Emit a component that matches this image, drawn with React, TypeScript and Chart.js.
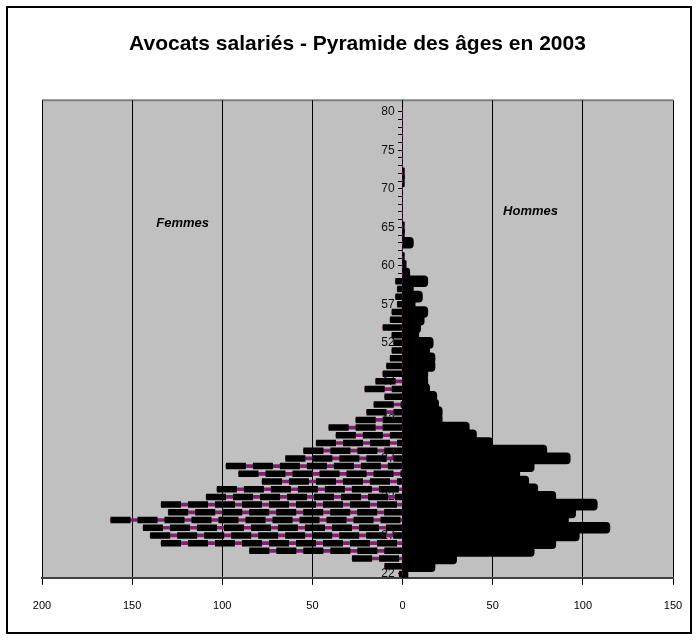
import { useEffect, useRef } from "react";
import { Chart, registerables } from "chart.js";

Chart.register(...registerables);

const chartTitle = "Avocats salariés - Pyramide des âges en 2003";

// one category per row of the pyramid, bottom to top
const ages = [
  "22", "23", "24", "25", "26", "27", "28", "29", "30", "31",
  "32", "33", "34", "35", "36", "37", "38", "39", "40", "41",
  "42", "43", "44", "45", "46", "47", "48", "49", "50", "51",
  "52", "53", "54", "55", "56", "57", "57,6", "58,2", "58,8", "59,4",
  "60", "61", "62", "63", "64", "65", "66", "67", "68", "69",
  "70", "71", "72", "73", "74", "75", "76", "77", "78", "79",
  "80",
];

// labels shown on the age axis, one every 5 rows
const ageTickLabels = ["22", "27", "32", "37", "42", "47", "52", "57", "60", "65", "70", "75", "80"];

const femmes = [
  2, 10, 28, 85, 134, 140, 144, 162, 130, 134,
  109, 103, 78, 91, 98, 65, 55, 48, 37, 41,
  26, 20, 16, 10, 21, 15, 11, 9, 7, 6,
  5, 6, 11, 7, 6, 3, 4, 3, 4, 0,
  0, 0, 0, 0, 0, 0, 0, 0, 0, 0,
  0, 0, 0, 0, 0, 0, 0, 0, 0, 0,
  0,
];

const hommes = [
  3, 18, 30, 73, 85, 98, 115, 92, 96, 108,
  85, 75, 70, 65, 73, 93, 80, 50, 41, 37,
  22, 22, 20, 19, 15, 14, 14, 18, 18, 15,
  17, 9, 10, 12, 14, 7, 11, 6, 14, 4,
  2, 1, 0, 6, 1, 1, 0, 0, 0, 0,
  0, 1, 1, 0, 0, 0, 0, 0, 0, 0,
  0,
];

const xMin = -200;
const xMax = 150;
const xStep = 50;

const annotations = [
  { text: "Femmes", x: -122, y: 45.5 },
  { text: "Hommes", x: 71, y: 47 },
];

const FONT = "'Liberation Sans', Arial, sans-serif";
const PURPLE = "#80206e";

const pyramidPlugin = {
  id: "pyramid",
  beforeDraw(chart: any) {
    const { ctx, chartArea: a } = chart;
    ctx.save();
    ctx.fillStyle = "#c0c0c0";
    ctx.fillRect(a.left, a.top, a.right - a.left, a.bottom - a.top);
    ctx.strokeStyle = "#808080";
    ctx.lineWidth = 2;
    ctx.beginPath();
    ctx.moveTo(a.left, a.top);
    ctx.lineTo(a.right, a.top);
    ctx.stroke();
    ctx.restore();
  },
  beforeDatasetsDraw(chart: any) {
    // age labels, left of the central axis, covered by the bars
    const { ctx } = chart;
    const xs = chart.scales.x;
    const ys = chart.scales.y;
    const axisX = xs.getPixelForValue(0);
    ctx.save();
    ctx.font = `12px ${FONT}`;
    ctx.fillStyle = "#111";
    ctx.textAlign = "right";
    ctx.textBaseline = "middle";
    ageTickLabels.forEach((lab, k) => {
      ctx.fillText(lab, axisX - 8, ys.getPixelForValue(k * 5));
    });
    ctx.restore();
  },
  afterDatasetsDraw(chart: any) {
    const { ctx, chartArea: a } = chart;
    const meta = chart.getDatasetMeta(0);
    ctx.save();
    ctx.beginPath();
    ctx.rect(a.left, a.top, a.right - a.left, a.bottom - a.top);
    ctx.clip();
    ctx.strokeStyle = "#000";
    ctx.lineWidth = 6.5;
    ctx.lineCap = "butt";
    ctx.setLineDash([20, 7]);
    meta.data.forEach((el: any) => {
      const { x, y, base } = el.getProps(["x", "y", "base"], true);
      if (Math.abs(base - x) < 0.5) return;
      ctx.beginPath();
      ctx.moveTo(x, y);
      ctx.lineTo(base, y);
      ctx.stroke();
    });
    ctx.restore();

    ctx.save();
    ctx.font = `italic bold 13px ${FONT}`;
    ctx.fillStyle = "#000";
    ctx.textAlign = "center";
    ctx.textBaseline = "middle";
    const xs = chart.scales.x;
    const ys = chart.scales.y;
    annotations.forEach((t) => {
      ctx.fillText(t.text, xs.getPixelForValue(t.x), ys.getPixelForValue(t.y));
    });
    ctx.restore();
  },
};

export default function App() {
  const ref = useRef<HTMLCanvasElement | null>(null);

  useEffect(() => {
    if (!ref.current) return;
    const labels = [...ages, ""];
    const chart = new Chart(ref.current, {
      type: "bar",
      data: {
        labels,
        datasets: [
          {
            label: "Femmes",
            data: femmes.map((v) => -v),
            backgroundColor: PURPLE,
            borderWidth: 0,
            barThickness: 3,
            grouped: false,
          } as any,
          {
            label: "Hommes",
            data: hommes,
            backgroundColor: "#000",
            borderWidth: 0,
            borderRadius: 4,
            borderSkipped: "start",
            barThickness: 11,
            grouped: false,
          } as any,
        ],
      },
      options: {
        indexAxis: "y",
        animation: false,
        responsive: false,
        maintainAspectRatio: false,
        layout: { padding: { left: 42, right: 25, top: 0, bottom: 12 } },
        plugins: {
          legend: { display: false },
          tooltip: { enabled: false },
          title: {
            display: true,
            text: chartTitle,
            color: "#000",
            font: { family: FONT, size: 21, weight: "bold" },
            padding: { top: 32, bottom: 43 },
          },
        },
        scales: {
          x: {
            type: "linear",
            min: xMin,
            max: xMax,
            ticks: {
              stepSize: xStep,
              callback: (v: any) => String(Math.abs(Number(v))),
              color: "#000",
              font: { family: FONT, size: 11 },
              padding: 15,
            },
            grid: { color: "#000", lineWidth: 1, tickLength: 7, tickColor: "#000" },
            border: { color: "#404040", width: 2 },
          },
          y: {
            type: "category",
            position: { x: 0 } as any,
            reverse: true,
            offset: true,
            ticks: {
              autoSkip: false,
              callback: () => "",
              font: { family: FONT, size: 12 },
            },
            grid: {
              drawOnChartArea: false,
              offset: false,
              tickLength: 4,
              color: (c: any) => (c.index >= ages.length ? "rgba(0,0,0,0)" : "#000"),
            },
            border: { color: "#000", width: 1 },
          },
        },
      },
      plugins: [pyramidPlugin],
    });
    return () => chart.destroy();
  }, []);

  return (
    <div style={{ position: "absolute", left: 0, top: 0, width: 698, height: 640, background: "#fff" }}>
      <canvas ref={ref} width={698} height={640} style={{ position: "absolute", left: 0, top: 0, width: 698, height: 640 }} />
      <div
        style={{
          position: "absolute",
          left: 6,
          top: 6,
          width: 686,
          height: 628,
          border: "2px solid #000",
          boxSizing: "border-box",
          pointerEvents: "none",
        }}
      />
    </div>
  );
}
